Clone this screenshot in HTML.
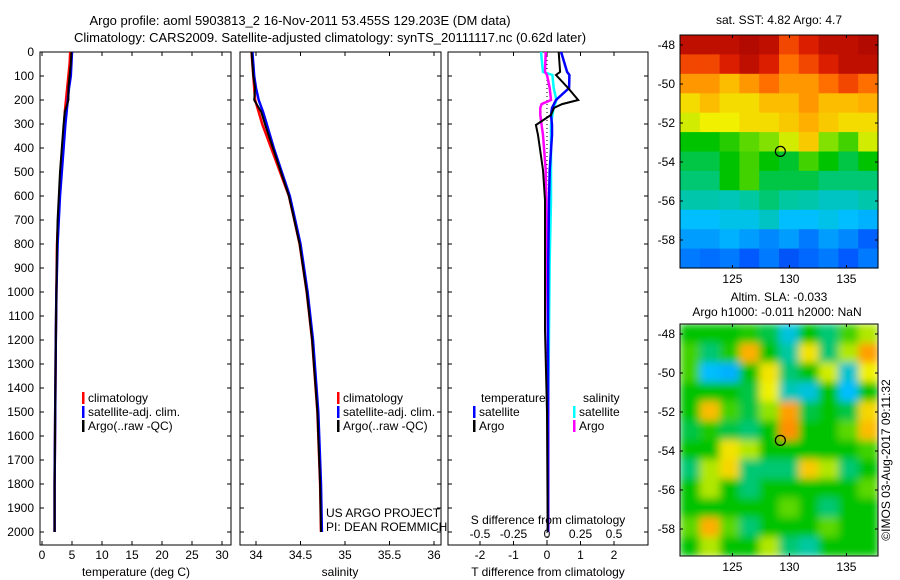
<!DOCTYPE html>
<html><head><meta charset="utf-8">
<style>
body{margin:0;background:#fff;}
svg{display:block;font-family:"Liberation Sans",sans-serif;}
text{font-size:12px;fill:#000;}
</style></head>
<body>
<svg id="fig" width="900" height="580" viewBox="0 0 900 580" xmlns="http://www.w3.org/2000/svg">
<defs><filter id="blur" x="0" y="0" width="1" height="1"><feGaussianBlur stdDeviation="4" edgeMode="duplicate"/></filter>
<clipPath id="clipMap2"><rect x="680" y="324" width="198" height="232"/></clipPath></defs>
<text x="300" y="25" text-anchor="middle" style="font-size:13px">Argo profile: aoml 5903813_2 16-Nov-2011 53.455S 129.203E (DM data)</text>
<text x="330" y="42" text-anchor="middle" style="font-size:13px">Climatology: CARS2009. Satellite-adjusted climatology: synTS_20111117.nc (0.62d later)</text>
<g id="g"></g>
</svg>
<script>
// ---- data ----
const depthTicks=[0,100,200,300,400,500,600,700,800,900,1000,1100,1200,1300,1400,1500,1600,1700,1800,1900,2000];
const tempTicks=[0,5,10,15,20,25,30];
const salTicks=[34,34.5,35,35.5,36];
const tdiffTicks=[-2,-1,0,1,2];
const sdiffTicks=[-0.5,-0.25,0,0.25,0.5];
const sdiffTickLabels=["-0.5","-0.25","0","0.25","0.5"];
const profDepth=[0,50,100,150,200,250,300,400,500,600,700,800,1000,1200,1500,1800,2000];
const tempClim=[4.7,4.6,4.4,4.2,4.0,3.8,3.7,3.4,3.1,2.9,2.7,2.5,2.4,2.3,2.2,2.1,2.1];
const tempSat=[5.0,4.9,4.8,4.5,4.3,4.1,3.9,3.6,3.3,3.0,2.8,2.6,2.4,2.3,2.2,2.1,2.1];
const tempArgo=[4.9,4.8,4.6,4.4,4.4,3.8,3.6,3.3,3.0,2.8,2.6,2.5,2.4,2.3,2.2,2.1,2.1];
const salClim=[33.95,33.96,33.97,33.98,33.99,34.03,34.07,34.17,34.27,34.37,34.43,34.49,34.57,34.63,34.69,34.72,34.73];
const salSat=[33.96,33.97,33.98,34.0,34.03,34.08,34.12,34.2,34.29,34.38,34.44,34.5,34.58,34.64,34.70,34.73,34.74];
const salArgo=[33.95,33.96,33.97,33.99,33.98,34.06,34.10,34.19,34.28,34.37,34.43,34.49,34.57,34.63,34.69,34.72,34.73];
const diffDepth=[0,83,96,150,200,217,233,262,304,346,492,617,867,1158,1500,2000];
const tdiffArgo=[0.35,0.39,0.27,0.63,0.93,0.45,0.21,0.12,-0.33,-0.27,-0.12,-0.06,-0.06,-0.06,0.0,0.02];
const tdiffSat=[0.42,0.6,0.67,0.66,0.27,0.21,0.15,0.12,0.15,0.15,0.08,0.06,0.04,0.03,0.03,0.03];
const sdiffArgo=[-0.01,-0.015,0.0,0.02,0.03,-0.04,-0.05,-0.05,-0.04,-0.03,-0.01,-0.005,0.0,0.005,0.01,0.01];
const sdiffSat=[-0.045,-0.03,0.04,0.05,0.07,0.06,0.05,0.04,0.03,0.03,0.03,0.03,0.02,0.015,0.01,0.01];
const latTicks=[-48,-50,-52,-54,-56,-58];
const lonTicks=[125,130,135];
const sstGrid=[
[.95,.95,.95,.97,.95,.85,.9,.95,.95,.97],
[.85,.85,.9,.95,.9,.8,.85,.9,.95,.95],
[.75,.75,.7,.75,.8,.75,.75,.8,.85,.8],
[.65,.7,.65,.65,.7,.7,.75,.7,.7,.72],
[.6,.62,.62,.65,.65,.68,.72,.68,.65,.65],
[.45,.45,.48,.52,.55,.6,.68,.55,.5,.6],
[.42,.42,.45,.5,.45,.43,.5,.45,.42,.45],
[.4,.4,.45,.5,.42,.42,.42,.4,.4,.4],
[.37,.37,.36,.38,.4,.38,.37,.35,.35,.37],
[.3,.3,.32,.32,.35,.3,.3,.32,.3,.28],
[.25,.25,.28,.25,.22,.25,.2,.25,.22,.16],
[.2,.18,.2,.15,.2,.14,.17,.2,.15,.2]];
const slaGrid=[
[.45,.45,.45,.47,.42,.33,.45,.4,.5,.58],
[.5,.4,.47,.72,.45,.38,.64,.4,.58,.74],
[.5,.3,.28,.45,.64,.4,.45,.6,.34,.62],
[.45,.45,.45,.42,.62,.36,.33,.45,.3,.45],
[.45,.7,.5,.42,.56,.74,.42,.45,.42,.66],
[.42,.47,.42,.4,.45,.76,.45,.45,.52,.7],
[.45,.45,.64,.58,.45,.45,.45,.45,.45,.5],
[.4,.58,.66,.4,.4,.4,.68,.58,.4,.45],
[.45,.58,.45,.4,.45,.45,.45,.45,.45,.52],
[.45,.45,.45,.45,.45,.52,.45,.4,.45,.45],
[.52,.72,.52,.4,.45,.45,.45,.52,.45,.45],
[.45,.58,.45,.45,.58,.4,.38,.45,.45,.45]];
const profLon=[129.203];
const profLat=[-53.455];

// ---- helpers ----
const NS="http://www.w3.org/2000/svg";
const G=document.getElementById('g');
function el(tag,attrs,parent){const e=document.createElementNS(NS,tag);for(const k in attrs)e.setAttribute(k,attrs[k]);(parent||G).appendChild(e);return e;}
function txt(x,y,s,anchor,parent){const t=el('text',{x:x,y:y,'text-anchor':anchor||'start'},parent);t.textContent=s;return t;}
const yD=d=>52+0.24*d;
const xT=t=>42+6*t;
const xS=s=>256+89*(s-34);
const xTd=v=>547+33.5*v;
const xSd=v=>547+134*v;
const mapX=lon=>680+(lon-120.4)*11.4;
const yLat1=lat=>45+(-48-lat)*19.5;
const yLat2=lat=>334+(-48-lat)*19.5;

function panel(x0,x1,name){
  const r=el('rect',{x:x0,y:52,width:x1-x0,height:493,fill:'none',stroke:'#000','stroke-width':1});
  
  
  depthTicks.forEach(d=>{el('line',{x1:x0,x2:x0+4,y1:yD(d),y2:yD(d),stroke:'#000'});el('line',{x1:x1-4,x2:x1,y1:yD(d),y2:yD(d),stroke:'#000'});});
}
function line(xs,ds,xf,color,name,w){
  const pts=xs.map((v,i)=>xf(v).toFixed(1)+','+yD(ds[i]).toFixed(1)).join(' ');
  const p=el('polyline',{points:pts,fill:'none',stroke:color,'stroke-width':w||2.5});
  
  
}
function legendEntry(x,y,color,label,name){
  const g=el('g',{});
  
  
  el('rect',{x:x,y:y-10,width:2.5,height:12,fill:color},g);
  txt(x+6,y,label,'start',g);
}

// ---- panel 1 temperature ----
panel(40,231,'temperature-axes');
depthTicks.forEach(d=>{const t=txt(34,yD(d)+4,String(d),'end');});
tempTicks.forEach(v=>{el('line',{x1:xT(v),x2:xT(v),y1:52,y2:56,stroke:'#000'});el('line',{x1:xT(v),x2:xT(v),y1:541,y2:545,stroke:'#000'});const t=txt(xT(v),559,String(v),'middle');});
line(tempClim,profDepth,xT,'#f00','temp-climatology-line');
line(tempSat,profDepth,xT,'#00f','temp-satellite-line');
line(tempArgo,profDepth,xT,'#000','temp-argo-line',2);
let t1=txt(136,576,'temperature (deg C)','middle');
legendEntry(82,402,'#f00','climatology','legend-climatology');
legendEntry(82,416,'#00f','satellite-adj. clim.','legend-satellite');
legendEntry(82,430,'#000','Argo(..raw -QC)','legend-argo');

// ---- panel 2 salinity ----
panel(240,441,'salinity-axes');
salTicks.forEach(v=>{el('line',{x1:xS(v),x2:xS(v),y1:52,y2:56,stroke:'#000'});el('line',{x1:xS(v),x2:xS(v),y1:541,y2:545,stroke:'#000'});const t=txt(xS(v),559,String(v),'middle');});
line(salClim,profDepth,xS,'#f00','sal-climatology-line');
line(salSat,profDepth,xS,'#00f','sal-satellite-line');
line(salArgo,profDepth,xS,'#000','sal-argo-line',2);
let t2=txt(340,576,'salinity','middle');
legendEntry(337,402,'#f00','climatology','legend-climatology-2');
legendEntry(337,416,'#00f','satellite-adj. clim.','legend-satellite-2');
legendEntry(337,430,'#000','Argo(..raw -QC)','legend-argo-2');
let c1=txt(326,517,'US ARGO PROJECT');
let c2=txt(326,531,'PI: DEAN ROEMMICH');

// ---- panel 3 differences ----
panel(448,648,'difference-axes');
tdiffTicks.forEach(v=>{el('line',{x1:xTd(v),x2:xTd(v),y1:52,y2:56,stroke:'#000'});el('line',{x1:xTd(v),x2:xTd(v),y1:541,y2:545,stroke:'#000'});const t=txt(xTd(v),559,String(v),'middle');});
sdiffTicks.forEach((v,i)=>{const t=txt(xSd(v),538,sdiffTickLabels[i],'middle');});
el('line',{x1:xTd(0),x2:xTd(0),y1:52,y2:545,stroke:'#000','stroke-dasharray':'1,3'});
line(sdiffSat,diffDepth,xSd,'#0ff','sdiff-satellite-line');
line(sdiffArgo,diffDepth,xSd,'#f0f','sdiff-argo-line');
line(tdiffSat,diffDepth,xTd,'#00f','tdiff-satellite-line');
line(tdiffArgo,diffDepth,xTd,'#000','tdiff-argo-line',2);
txt(481,402,'temperature');txt(583,402,'salinity');
legendEntry(473,416,'#00f','satellite','legend-t-satellite');
legendEntry(473,430,'#000','Argo','legend-t-argo');
legendEntry(573,416,'#0ff','satellite','legend-s-satellite');
legendEntry(573,430,'#f0f','Argo','legend-s-argo');
let t3=txt(548,524,'S difference from climatology','middle');
let t4=txt(548,576,'T difference from climatology','middle');

// ---- maps ----
const stops=[[0,[0,0,150]],[.15,[0,90,255]],[.3,[0,190,255]],[.38,[0,200,160]],[.45,[0,195,0]],[.55,[130,225,0]],[.62,[240,240,0]],[.72,[255,175,0]],[.82,[255,95,0]],[.9,[220,30,0]],[1,[160,0,0]]];
function cmap(v){for(let i=1;i<stops.length;i++){if(v<=stops[i][0]){const a=stops[i-1],b=stops[i],f=(v-a[0])/(b[0]-a[0]);const c=a[1].map((x,k)=>Math.round(x+(b[1][k]-x)*f));return 'rgb('+c+')';}}return 'rgb(160,0,0)';}
function map(grid,x0,y0,w,h,name,blur,yLat){
  const g=el('g',{});
  
  
  const cont=blur?el('g',{'clip-path':'url(#clipMap2)'},g):g;
  const inner=blur?el('g',{filter:'url(#blur)'},cont):g;
  const nr=grid.length,nc=grid[0].length,cw=w/nc,ch=h/nr;
  grid.forEach((row,r)=>row.forEach((v,c)=>{
    const rc=el('rect',{x:(x0+c*cw).toFixed(1),y:(y0+r*ch).toFixed(1),width:(cw+0.6).toFixed(1),height:(ch+0.6).toFixed(1),fill:cmap(v)},inner);
    
    
  }));
  el('rect',{x:x0,y:y0,width:w,height:h,fill:'none',stroke:'#000'},g);
  latTicks.forEach(l=>{const y=yLat(l);el('line',{x1:x0,x2:x0+3,y1:y,y2:y,stroke:'#000'},g);el('line',{x1:x0+w-3,x2:x0+w,y1:y,y2:y,stroke:'#000'},g);txt(x0-5,y+4,String(l),'end',g);});
  lonTicks.forEach(l=>{const x=mapX(l);el('line',{x1:x,x2:x,y1:y0,y2:y0+3,stroke:'#000'},g);el('line',{x1:x,x2:x,y1:y0+h-3,y2:y0+h,stroke:'#000'},g);txt(x,y0+h+15,String(l),'middle',g);});
  const m=el('circle',{cx:mapX(profLon[0]),cy:yLat(profLat[0]),r:5,fill:'none',stroke:'#000','stroke-width':1.2},g);
  
  
}
map(sstGrid,680,35,198,233,'sst-map',false,yLat1);
map(slaGrid,680,324,198,232,'sla-map',true,yLat2);
let m1=txt(779,24,'sat. SST: 4.82 Argo: 4.7','middle');
let m2=txt(779,301,'Altim. SLA: -0.033','middle');
let m3=txt(777,316,'Argo h1000: -0.011 h2000: NaN','middle');
let cr=txt(0,0,'©IMOS 03-Aug-2017 09:11:32','middle');cr.setAttribute('transform','translate(890,460) rotate(-90)');


</script>
</body></html>
